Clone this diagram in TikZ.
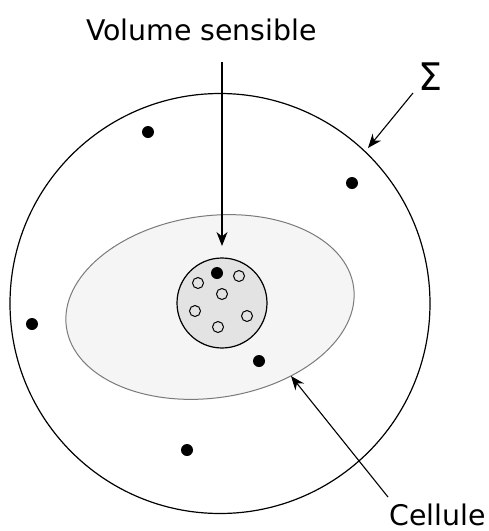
\documentclass[tikz,border=0pt]{standalone}
\usepackage{fontspec}
\setmainfont{DejaVu Sans}
\usetikzlibrary{arrows.meta,shapes.geometric}
\definecolor{cellfill}{HTML}{F5F5F5}
\definecolor{celledge}{HTML}{7A7A7A}
\definecolor{volfill}{HTML}{E3E3E3}
\begin{document}
\begin{tikzpicture}[x=1pt,y=-1pt,
  arr/.style={line width=1.1pt,-{Stealth[length=14pt,width=11pt,inset=4.5pt]}},
  dotfull/.style={circle,fill=black,inner sep=0pt,minimum size=12pt},
  dotopen/.style={circle,draw=black,line width=1pt,inner sep=0pt,minimum size=11pt},
  lbl/.style={inner sep=0pt,font=\fontsize{28.4}{30}\selectfont}]
\useasboundingbox (0,0) rectangle (489,531);
% big circle Sigma
\node[circle,draw=black,line width=1.2pt,minimum size=420pt,inner sep=0pt] (sigma) at (220,303.5) {};
% cell ellipse
\draw[fill=cellfill,draw=celledge,line width=1pt] (210,307) ellipse [x radius=145pt,y radius=91pt,rotate=8];
% sensitive volume
\node[circle,draw=black,fill=volfill,line width=1.2pt,minimum size=90pt,inner sep=0pt] (vol) at (222,303) {};
% points inside volume
\node[dotfull] (p1) at (217,273) {};
\node[dotopen] (o1) at (239,276) {};
\node[dotopen] (o2) at (198,283) {};
\node[dotopen] (o3) at (222,294) {};
\node[dotopen] (o4) at (195,311) {};
\node[dotopen] (o5) at (247,316) {};
\node[dotopen] (o6) at (218,327) {};
% points outside
\node[dotfull] (q1) at (148,132) {};
\node[dotfull] (q2) at (352,183) {};
\node[dotfull] (q3) at (32,324) {};
\node[dotfull] (q4) at (259,361) {};
\node[dotfull] (q5) at (187,450) {};
% labels
\node[lbl,anchor=base] (tvol) at (201.5,40) {Volume sensible};
\node[inner sep=0pt,anchor=base,font=\fontsize{38}{40}\selectfont] (tsig) at (431,90) {Σ};
\node[lbl,anchor=base east] (tcel) at (486,525) {Cellule};
% arrows
\coordinate (volstart) at (222,62);
\coordinate (voltip) at (222,246);
\coordinate (sigstart) at (413,93);
\coordinate (sigtip) at (368,148);
\coordinate (celstart) at (388,497);
\coordinate (celtip) at (291,376);
\draw[arr] (volstart) -- (voltip);
\draw[arr] (sigstart) -- (sigtip);
\draw[arr] (celstart) -- (celtip);
\end{tikzpicture}
\end{document}
